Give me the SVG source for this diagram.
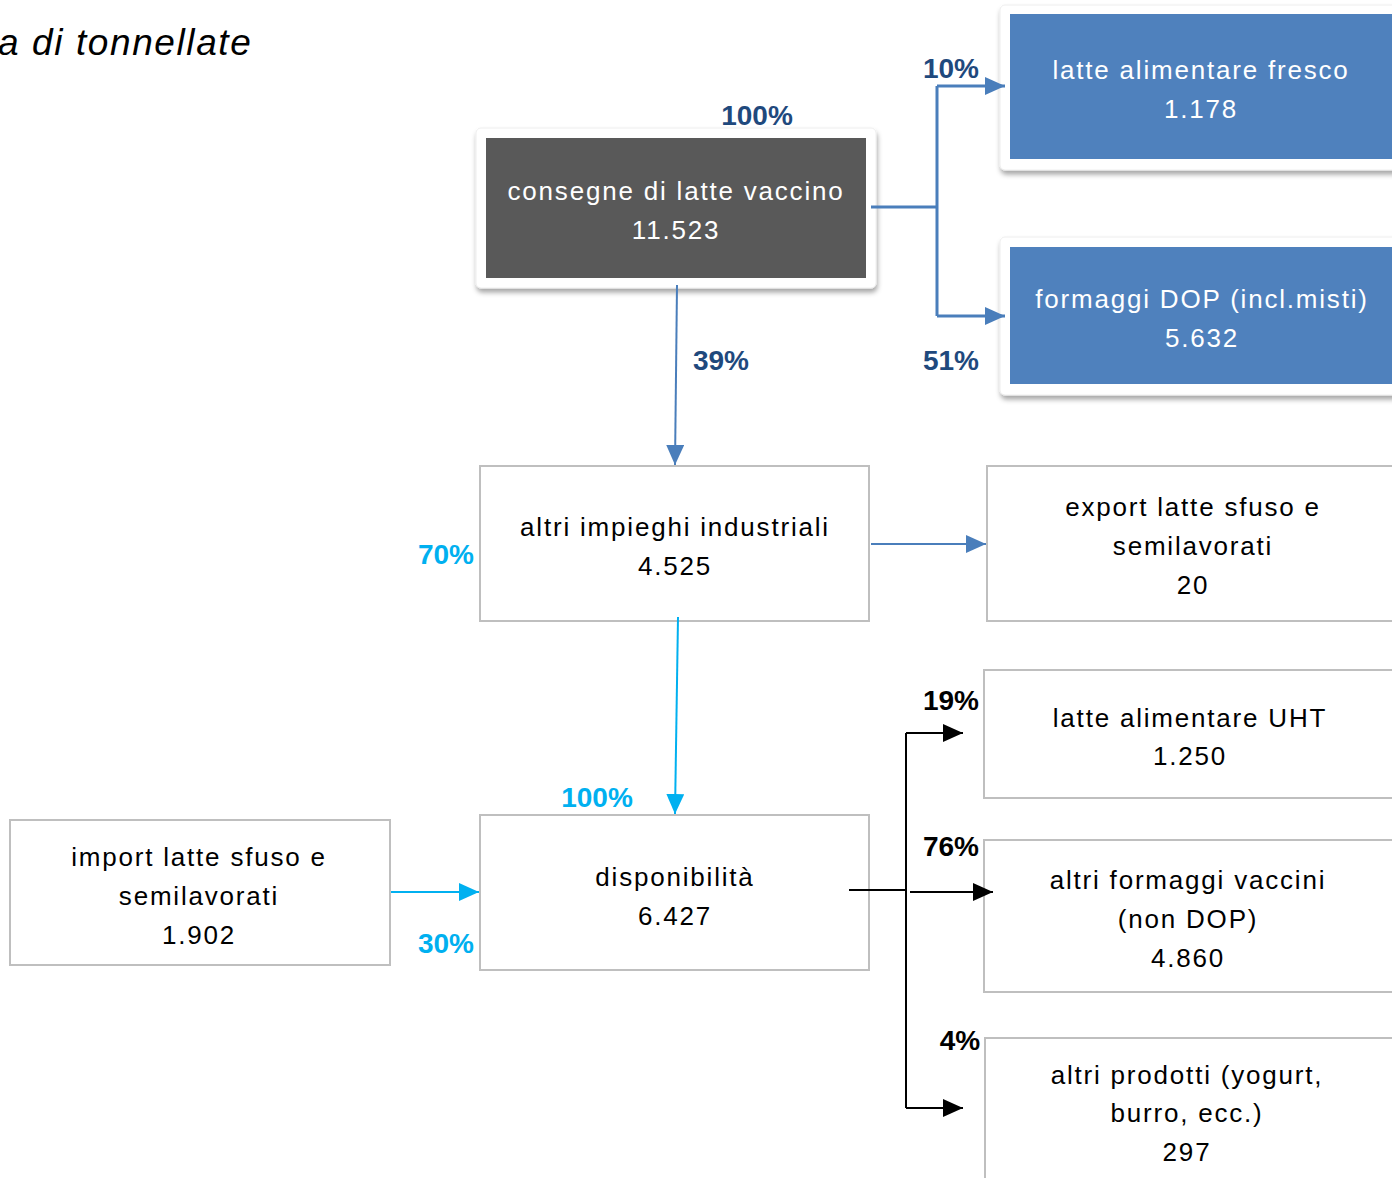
<svg xmlns="http://www.w3.org/2000/svg" width="1392" height="1178" viewBox="0 0 1392 1178">
<defs>
<filter id="sh" x="-10%" y="-10%" width="120%" height="130%">
<feDropShadow dx="1" dy="4" stdDeviation="2.5" flood-color="#000" flood-opacity="0.35"/>
</filter>
<marker id="abl" markerWidth="20" markerHeight="18" refX="20" refY="9" orient="auto" markerUnits="userSpaceOnUse"><path d="M0,0 L20,9 L0,18 z" fill="#4A7EBB"/></marker>
<marker id="ac" markerWidth="20" markerHeight="18" refX="20" refY="9" orient="auto" markerUnits="userSpaceOnUse"><path d="M0,0 L20,9 L0,18 z" fill="#00B0F0"/></marker>
<marker id="ak" markerWidth="20" markerHeight="18" refX="20" refY="9" orient="auto" markerUnits="userSpaceOnUse"><path d="M0,0 L20,9 L0,18 z" fill="#000"/></marker>
</defs>
<style>
.t{font-family:"Liberation Sans",Arial,sans-serif;font-size:26px;text-anchor:middle;letter-spacing:1.8px}
.w{fill:#fff}
.k{fill:#000}
.box{fill:#fff;stroke:#BFBFBF;stroke-width:2}
.outer{fill:#fff;stroke:#EEEEEE;stroke-width:1}
.p{font-family:"Liberation Sans",Arial,sans-serif;font-size:28px;font-weight:bold;text-anchor:middle}
.db{fill:#1F497D}.cy{fill:#00B0F0}.bk{fill:#000}
.lb{fill:none;stroke:#4A7EBB;stroke-width:3}
.lb2{fill:none;stroke:#4A7EBB;stroke-width:2}
.lc{fill:none;stroke:#00B0F0;stroke-width:2}
.lk{fill:none;stroke:#000;stroke-width:2}
</style>
<rect width="1392" height="1178" fill="#fff"/>
<text x="-2" y="55" font-family="'Liberation Sans',Arial,sans-serif" font-size="37" font-style="italic" letter-spacing="1.6" fill="#000">a di tonnellate</text>

<g id="consegne">
<rect class="outer" x="476" y="128" width="400" height="160" rx="5" filter="url(#sh)"/>
<rect x="486" y="138" width="380" height="140" fill="#595959"/>
<text class="t w" x="676" y="200">consegne di latte vaccino</text>
<text class="t w" x="676" y="239">11.523</text>
</g>
<g id="latte-fresco">
<rect class="outer" x="1000" y="5" width="400" height="165" rx="5" filter="url(#sh)"/>
<rect x="1010" y="14" width="382" height="145" fill="#4F81BD"/>
<text class="t w" x="1201" y="79">latte  alimentare fresco</text>
<text class="t w" x="1201" y="118">1.178</text>
</g>
<g id="formaggi-dop">
<rect class="outer" x="1000" y="237" width="400" height="158" rx="5" filter="url(#sh)"/>
<rect x="1010" y="247" width="382" height="137" fill="#4F81BD"/>
<text class="t w" x="1202" y="308">formaggi DOP (incl.misti)</text>
<text class="t w" x="1202" y="347">5.632</text>
</g>
<g id="altri-impieghi">
<rect class="box" x="480" y="466" width="389" height="155"/>
<text class="t k" x="675" y="536">altri impieghi industriali</text>
<text class="t k" x="675" y="575">4.525</text>
</g>
<g id="export">
<rect class="box" x="987" y="466" width="420" height="155"/>
<text class="t k" x="1193" y="516">export latte sfuso e</text>
<text class="t k" x="1193" y="555">semilavorati</text>
<text class="t k" x="1193" y="594">20</text>
</g>
<g id="latte-uht">
<rect class="box" x="984" y="670" width="420" height="128"/>
<text class="t k" x="1190" y="727">latte alimentare UHT</text>
<text class="t k" x="1190" y="765">1.250</text>
</g>
<g id="altri-formaggi">
<rect class="box" x="984" y="840" width="420" height="152"/>
<text class="t k" x="1188" y="889">altri formaggi vaccini</text>
<text class="t k" x="1188" y="928">(non DOP)</text>
<text class="t k" x="1188" y="967">4.860</text>
</g>
<g id="altri-prodotti">
<rect class="box" x="985" y="1038" width="420" height="160"/>
<text class="t k" x="1187" y="1084">altri prodotti (yogurt,</text>
<text class="t k" x="1187" y="1122">burro, ecc.)</text>
<text class="t k" x="1187" y="1161">297</text>
</g>
<g id="import">
<rect class="box" x="10" y="820" width="380" height="145"/>
<text class="t k" x="199" y="866">import latte sfuso e</text>
<text class="t k" x="199" y="905">semilavorati</text>
<text class="t k" x="199" y="944">1.902</text>
</g>
<g id="disponibilita">
<rect class="box" x="480" y="815" width="389" height="155"/>
<text class="t k" x="675" y="886">disponibilità</text>
<text class="t k" x="675" y="925">6.427</text>
</g>

<g id="connectors">
<path class="lb" d="M871,207 H937 M937,86 V316"/>
<path class="lb" d="M937,86 H1005" marker-end="url(#abl)"/>
<path class="lb" d="M937,316 H1005" marker-end="url(#abl)"/>
<path class="lb2" d="M677,285 L675,465" marker-end="url(#abl)"/>
<path class="lb2" d="M871,544 H986" marker-end="url(#abl)"/>
<path class="lc" d="M678,617 L675,814" marker-end="url(#ac)"/>
<path class="lc" d="M391,892 H479" marker-end="url(#ac)"/>
<path class="lk" d="M849,890 H906 M906,733 V1108"/>
<path class="lk" d="M906,733 H963" marker-end="url(#ak)"/>
<path class="lk" d="M910,892 H993" marker-end="url(#ak)"/>
<path class="lk" d="M906,1108 H963" marker-end="url(#ak)"/>
</g>

<g id="labels">
<text class="p db" x="757" y="125">100%</text>
<text class="p db" x="951" y="78">10%</text>
<text class="p db" x="951" y="370">51%</text>
<text class="p db" x="721" y="370">39%</text>
<text class="p cy" x="446" y="564">70%</text>
<text class="p cy" x="597" y="807">100%</text>
<text class="p cy" x="446" y="953">30%</text>
<text class="p bk" x="951" y="710">19%</text>
<text class="p bk" x="951" y="856">76%</text>
<text class="p bk" x="960" y="1050">4%</text>
</g>
</svg>
